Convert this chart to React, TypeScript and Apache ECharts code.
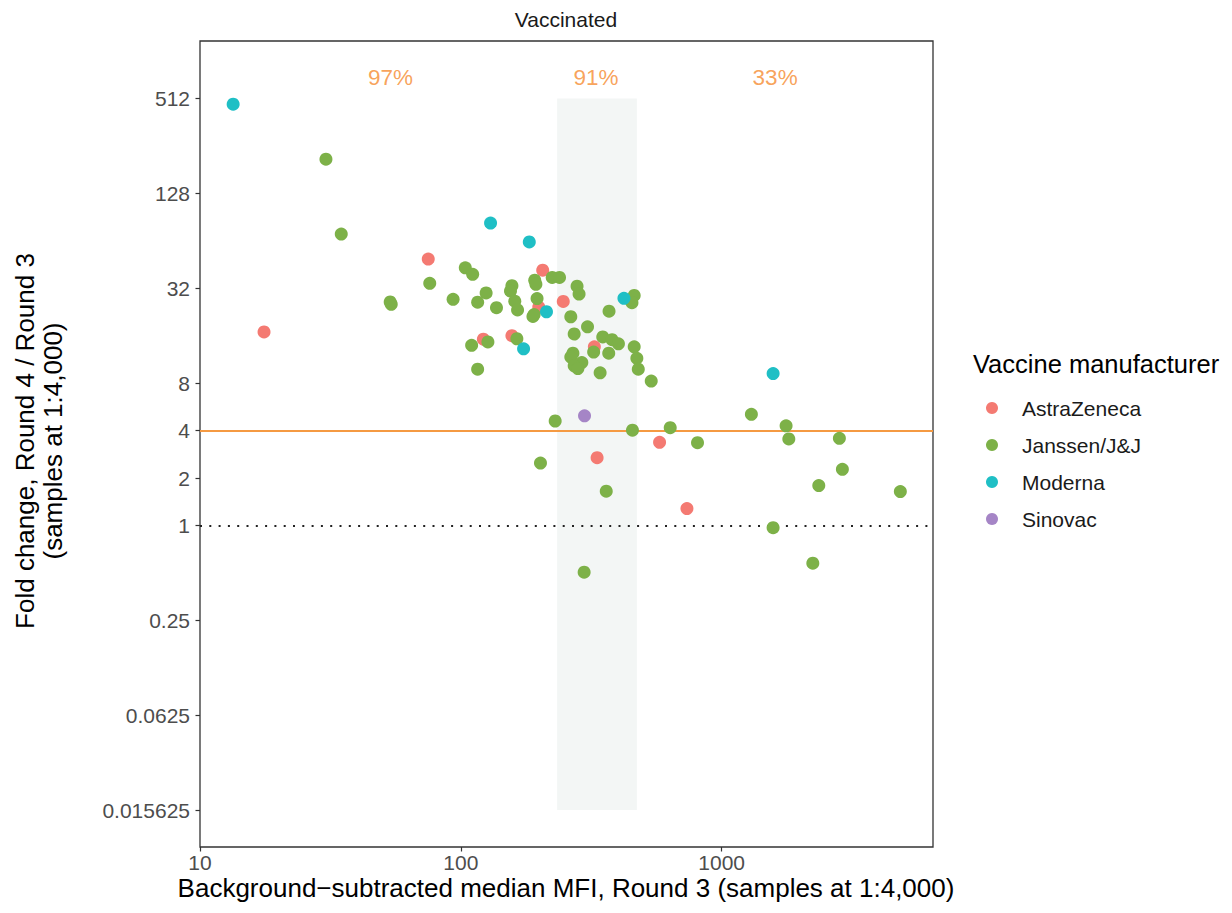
import React, { useEffect, useRef } from "react";
import * as echarts from "echarts";

// Round 3 MFI (x) and Round 4 / Round 3 fold change (y), per vaccine manufacturer
const astraZeneca: [number, number][] = [
  [75, 49], [206, 41.7], [247, 26.4], [199, 24.3], [17.6, 16.9], [122, 15.2],
  [157, 16.0], [325, 13.6], [578, 3.37], [333, 2.69], [736, 1.28],
];
const janssen: [number, number][] = [
  [30.4, 211], [34.8, 70.6], [104, 43.1], [111, 39.2], [224, 37.5], [239, 37.5],
  [76, 34.4], [192, 36.0], [194, 33.9], [157, 33.2], [155, 30.7], [125, 29.9],
  [279, 33.0], [284, 29.4], [93.4, 27.2], [116, 26.1], [54.1, 25.3], [53.6, 26.2],
  [137, 24.1], [196, 27.5], [161, 26.5], [165, 23.3], [462, 28.8], [453, 25.9],
  [370, 22.9], [189, 21.2], [191, 21.8], [264, 21.1], [306, 18.2], [272, 16.4],
  [127, 14.6], [110, 13.9], [164, 15.3], [350, 15.7], [380, 15.1], [402, 14.2],
  [323, 12.6], [369, 12.4], [462, 13.6], [269, 12.4], [264, 11.7], [291, 10.8],
  [272, 10.3], [281, 9.9], [473, 11.5], [479, 9.8], [342, 9.3], [116, 9.8],
  [537, 8.25], [230, 4.6], [455, 4.02], [635, 4.17], [1300, 5.07], [1766, 4.29],
  [1809, 3.54], [2827, 3.57], [808, 3.35], [2903, 2.27], [361, 1.65], [2357, 1.79],
  [4842, 1.64], [1575, 0.968], [2236, 0.576], [297, 0.505], [202, 2.49],
];
const moderna: [number, number][] = [
  [13.4, 471], [130, 83], [183, 63], [213, 22.7], [174, 13.2], [422, 27.6], [1575, 9.2],
];
const sinovac: [number, number][] = [[298, 4.96]];

const manufacturers = ["AstraZeneca", "Janssen/J&J", "Moderna", "Sinovac"];
const manufacturerData = [astraZeneca, janssen, moderna, sinovac];
const manufacturerColors = ["#F47A72", "#7DB148", "#1FBFC5", "#A585C6"];

// Shaded MFI band and the share labels above each region
const bandRange = [234, 473];
const bandFold = [0.015625, 512];
const shareLabels = ["97%", "91%", "33%"];
const shareLabelX = [53.7, 330, 1603];
const shareLabelY = 698;

// Reference fold-change levels
const thresholdFold = 4;
const unityFold = 1;

// Axis ranges and ticks (x in MFI, y in fold change)
const xRange = [10, 6460];
const yRange = [0.00911, 1186];
const xTicks = [10, 100, 1000];
const yTicks = [0.015625, 0.0625, 0.25, 1, 2, 4, 8, 32, 128, 512];

const lx = (v: number) => Math.log10(v);
const ly = (v: number) => Math.log2(v);

const FONT = "'Liberation Sans', Arial, sans-serif";

export default function App() {
  const ref = useRef<HTMLDivElement>(null);

  useEffect(() => {
    if (!ref.current) return;
    const chart = echarts.init(ref.current, null, { renderer: "svg" });

    const pointSeries = manufacturers.map((name, i) => ({
      name,
      type: "scatter",
      z: 5,
      symbol: "circle",
      symbolSize: 13,
      itemStyle: { color: manufacturerColors[i], opacity: 1 },
      data: manufacturerData[i].map(([x, y]) => [lx(x), ly(y)]),
    }));

    chart.setOption({
      animation: false,
      textStyle: { fontFamily: FONT },
      grid: {
        left: 200,
        top: 41,
        width: 733,
        height: 806,
        show: true,
        borderColor: "#333333",
        borderWidth: 1.3,
        backgroundColor: "transparent",
      },
      xAxis: {
        type: "value",
        min: lx(xRange[0]),
        max: lx(xRange[1]),
        interval: 1,
        axisLine: { show: false, onZero: false },
        splitLine: { show: false },
        axisTick: {
          show: true,
          customValues: xTicks.map(lx),
          length: 4.5,
          lineStyle: { color: "#333333", width: 1.2 },
        },
        axisLabel: {
          customValues: xTicks.map(lx),
          formatter: (v: number) => String(Math.round(Math.pow(10, v))),
          color: "#4D4D4D",
          fontSize: 21,
          fontFamily: FONT,
          margin: 5,
        },
      },
      yAxis: {
        type: "value",
        min: ly(yRange[0]),
        max: ly(yRange[1]),
        axisLine: { show: false, onZero: false },
        splitLine: { show: false },
        axisTick: {
          show: true,
          customValues: yTicks.map(ly),
          length: 4.5,
          lineStyle: { color: "#333333", width: 1.2 },
        },
        axisLabel: {
          customValues: yTicks.map(ly),
          formatter: (v: number) => String(Math.pow(2, Math.round(v))),
          color: "#4D4D4D",
          fontSize: 21,
          fontFamily: FONT,
          margin: 10,
        },
      },
      legend: {
        orient: "vertical",
        left: 981,
        top: 391,
        data: manufacturers,
        icon: "circle",
        itemWidth: 50,
        itemHeight: 12,
        symbolKeepAspect: true,
        itemGap: 13,
        textStyle: { fontSize: 21, color: "#1A1A1A", fontFamily: FONT, lineHeight: 24 },
      },
      graphic: [
        {
          type: "text",
          x: 566,
          y: 19,
          style: {
            text: "Vaccinated",
            fontSize: 21,
            fontFamily: FONT,
            fill: "#1A1A1A",
            textAlign: "center",
            textVerticalAlign: "middle",
          },
        },
        {
          type: "text",
          x: 566,
          y: 888,
          style: {
            text: "Background\u2212subtracted median MFI, Round 3 (samples at 1:4,000)",
            fontSize: 26,
            fontFamily: FONT,
            fill: "#000000",
            textAlign: "center",
            textVerticalAlign: "middle",
          },
        },
        {
          type: "text",
          x: 39,
          y: 441,
          rotation: Math.PI / 2,
          style: {
            text: "Fold change, Round 4 / Round 3\n(samples at 1:4,000)",
            fontSize: 26,
            lineHeight: 28,
            fontFamily: FONT,
            fill: "#000000",
            textAlign: "center",
            textVerticalAlign: "middle",
          },
        },
        {
          type: "text",
          x: 973,
          y: 364,
          style: {
            text: "Vaccine manufacturer",
            fontSize: 25.5,
            fontFamily: FONT,
            fill: "#000000",
            textAlign: "left",
            textVerticalAlign: "middle",
          },
        },
      ],
      series: [
        {
          name: "band",
          type: "scatter",
          data: [],
          silent: true,
          z: 1,
          markArea: {
            silent: true,
            itemStyle: { color: "#F3F6F5" },
            data: [
              [
                { coord: [lx(bandRange[0]), ly(bandFold[0])] },
                { coord: [lx(bandRange[1]), ly(bandFold[1])] },
              ],
            ],
          },
        },
        {
          name: "levels",
          type: "scatter",
          data: [],
          silent: true,
          z: 3,
          markLine: {
            silent: true,
            symbol: "none",
            label: { show: false },
            data: [
              { yAxis: ly(thresholdFold), lineStyle: { color: "#F59A42", width: 2, type: "solid" } },
              {
                yAxis: ly(unityFold),
                lineStyle: { color: "#222222", width: 2.2, type: [2, 7.3] },
              },
            ],
          },
        },
        {
          name: "shares",
          type: "scatter",
          silent: true,
          z: 4,
          symbolSize: 0,
          data: shareLabels.map((t, i) => ({ name: t, value: [lx(shareLabelX[i]), ly(shareLabelY)] })),
          label: {
            show: true,
            position: "inside",
            formatter: (p: any) => p.name,
            color: "#F68B30",
            fontSize: 22.5,
            fontFamily: FONT,
          },
        },
        ...pointSeries,
      ],
    });

    return () => chart.dispose();
  }, []);

  return <div ref={ref} style={{ width: 1232, height: 913, margin: -8 }} />;
}
